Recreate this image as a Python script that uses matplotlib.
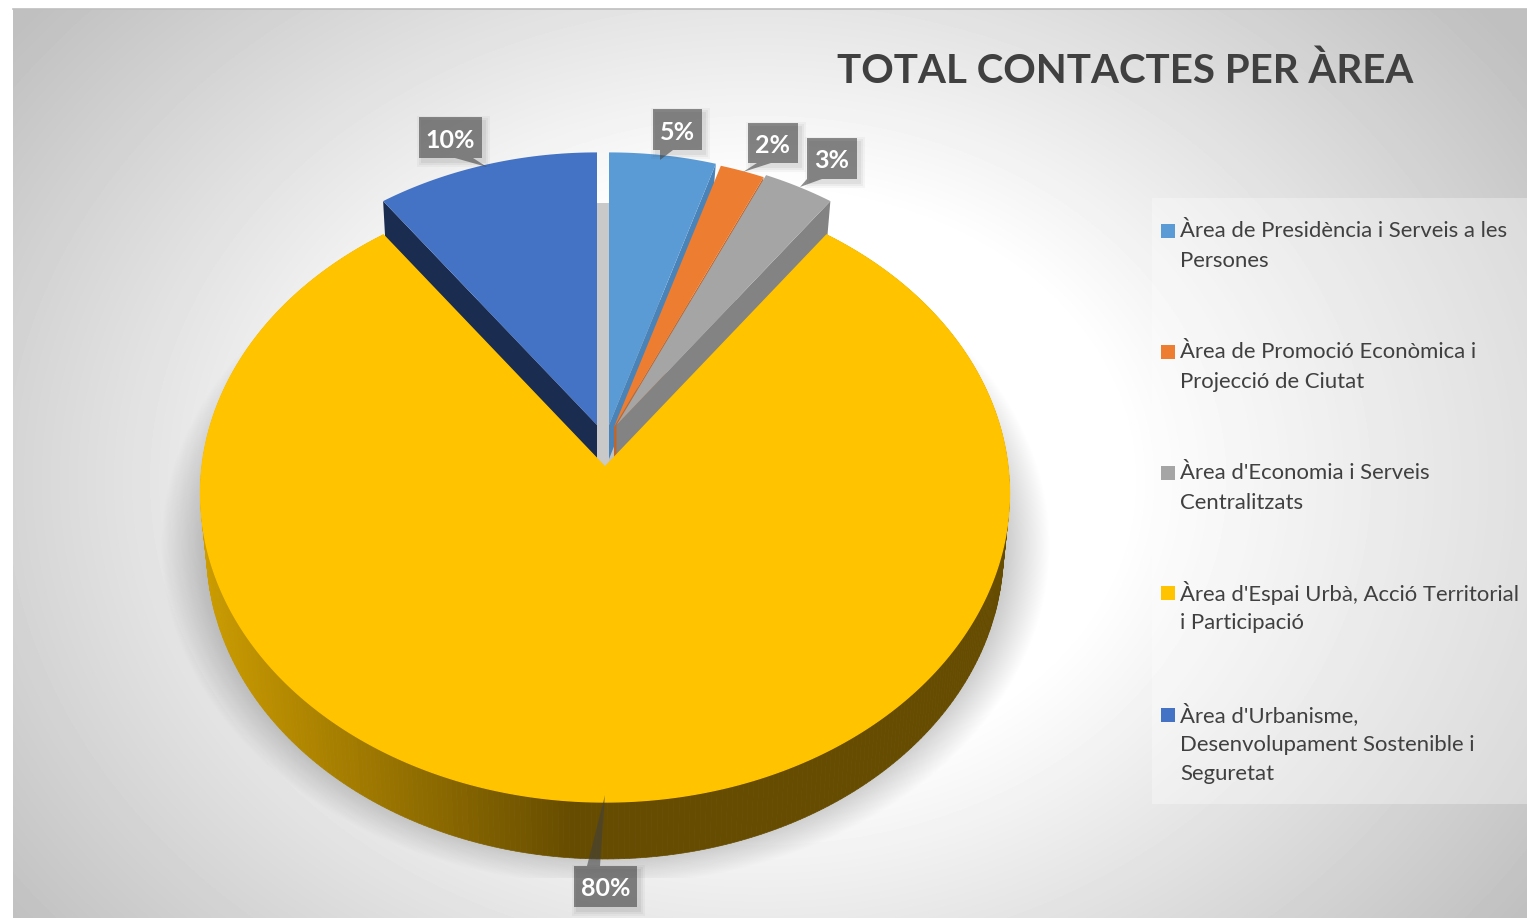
import numpy as np
import matplotlib
matplotlib.use('Agg')
import matplotlib.pyplot as plt
from matplotlib.patches import Polygon, Rectangle

plt.rcParams['font.family'] = ['Lato', 'DejaVu Sans']

title = 'TOTAL CONTACTES PER ÀREA'
categories = ["Àrea de Presidència i Serveis a les\nPersones",
              "Àrea de Promoció Econòmica i\nProjecció de Ciutat",
              "Àrea d'Economia i Serveis\nCentralitzats",
              "Àrea d'Espai Urbà, Acció Territorial\ni Participació",
              "Àrea d'Urbanisme,\nDesenvolupament Sostenible i\nSeguretat"]
values = [4.8, 2.0, 3.2, 80, 10]
colors = ['#5B9BD5', '#ED7D31', '#A5A5A5', '#FFC300', '#4472C4']
wall_colors = ['#4A83B8', '#C0662B', '#838383', '#664C00', '#1A2C50']

W, H = 1527, 918
fig = plt.figure(figsize=(W / 100, H / 100), dpi=100, facecolor='white')
ax = fig.add_axes([0, 0, 1, 1])
ax.set_xlim(0, W)
ax.set_ylim(H, 0)
ax.axis('off')

# background, radial grey
xx, yy = np.meshgrid(np.arange(13, W), np.arange(9, H))
dist = np.hypot((xx - 760) * 0.9, (yy - 480) * 1.15)
grey = 1 - 0.25 * np.clip((dist - 330) / 520, 0, 1.0)
ax.imshow(grey, extent=(13, W, H, 9), cmap='gray', vmin=0, vmax=1, zorder=0,
          aspect='auto')
ax.plot([13, W], [9, 9], color='#BFBFBF', lw=1.2, zorder=1)

# soft shadow under the pie, cut at the bottom of the plot area
xs, ys = np.meshgrid(np.arange(100, 1100), np.arange(300, 878))
d = np.hypot((xs - 605) / 445, (ys - 545) / 340)
shadow = np.zeros(xs.shape + (4,))
shadow[..., 3] = 0.24 * np.clip((1 - d) / 0.12, 0, 1)
ax.imshow(shadow, extent=(100, 1100, 878, 300), zorder=2, aspect='auto')
ax.set_xlim(0, W)
ax.set_ylim(H, 0)

# legend panel
ax.add_patch(Rectangle((1152, 198), 375, 606, fc='white', alpha=0.32, ec='none', zorder=2))


def proj(theta, apex, sx=1.0, sy=1.0):
    # perspective disc, theta clockwise from the top
    k = 0.085
    u, v = np.sin(theta), np.cos(theta)
    s = 1 + k * v
    return np.column_stack((apex[0] + 403 * sx * u / s, apex[1] - 306.5 * sy * v / s))


edges = np.radians(np.cumsum([0] + values) * 3.6)
apexes = [(609, 425), (614, 427), (616.5, 425), (605, 467), (597, 425)]
scale = 0.965
depth = 34

# inner face seen through the gap at the top
ax.add_patch(Rectangle((597, 203), 12, 264, fc='#C9C9C9', ec='none', zorder=3))

# blue slice
i = 4
th = np.linspace(edges[i], edges[i + 1], 40)
rim = proj(th, apexes[i], scale, scale)
a = np.array(apexes[i], float)
wall = np.array([a, rim[0], rim[0] + [2, depth + 2], a + [0, depth]])
ax.add_patch(Polygon(wall, fc=wall_colors[i], ec='none', zorder=4))
ax.add_patch(Polygon(np.vstack((a, rim)), fc=colors[i], ec='none', zorder=5))

# small slices on the right, back to front
for i in range(3):
    th = np.linspace(edges[i], edges[i + 1], 30)
    rim = proj(th, apexes[i], scale, scale)
    a = np.array(apexes[i], float)
    wall = np.array([a, rim[-1], rim[-1] + [-3, depth + 1], a + [0, depth]])
    ax.add_patch(Polygon(wall, fc=wall_colors[i], ec='none', zorder=4 + i * 0.1))
    ax.add_patch(Polygon(np.vstack((a, rim)), fc=colors[i], ec='none', zorder=4.05 + i * 0.1))

# big slice: side wall in strips, then the top
i = 3
th = np.linspace(edges[i], edges[i + 1], 400)
top = proj(th, apexes[i])
bot = proj(th, (apexes[i][0], apexes[i][1] + 57), 0.985, 1.0)
left_col = np.array([0xCC, 0x9C, 0x00]) / 255
dark_col = np.array([0x66, 0x4C, 0x00]) / 255
for j in range(len(th) - 1):
    x = top[j, 0]
    t = np.clip((x - 201) / (575 - 201), 0, 1)
    c = left_col * (1 - t) + dark_col * t
    ax.add_patch(Polygon([top[j], top[j + 1], bot[j + 1], bot[j]], fc=c, ec=c, lw=0.5, zorder=6))
ax.add_patch(Polygon(np.vstack((apexes[i], top)), fc=colors[i], ec=colors[i], lw=1, zorder=7))


# data labels with callouts
boxes = [(653, 109, 49, 41), (748, 123, 50, 40), (807, 138, 50, 41), (574, 866, 63, 41), (419, 117, 63, 41)]
tails = [[(660, 150), (673, 150), (660, 160)],
         [(757, 163), (771, 163), (743, 172)],
         [(807, 179), (822, 179), (800, 187)],
         [(587, 866), (600, 866), (605, 795)],
         [(455, 158), (473, 158), (487, 167)]]
box_col = (0.25, 0.25, 0.25, 0.58)
for v, (bx, by, bw, bh), tail in zip(values, boxes, tails):
    for grow, al in ((5, 0.03), (3, 0.04), (1, 0.05)):
        ax.add_patch(Rectangle((bx + 3 - grow, by + 4 - grow), bw + 2 * grow, bh + 2 * grow,
                               fc='black', alpha=al, ec='none', zorder=8))
    ax.add_patch(Rectangle((bx, by), bw, bh, fc=box_col, ec='none', zorder=9))
    ax.add_patch(Polygon(tail, fc=box_col, ec='none', zorder=9))
    ax.text(bx + bw / 2, by + bh / 2 + 2.5, f'{v:.0f}%', color='white', fontsize=18, fontweight='bold',
            ha='center', va='center', zorder=10)

ax.text(1125, 71, title, color='#404040', fontsize=29, fontweight='bold',
        ha='center', va='center', zorder=10)

# legend
first_lines = [231, 352, 473, 593, 715]
for cat, col, y0 in zip(categories, colors, first_lines):
    ax.add_patch(Rectangle((1161, y0 - 7), 14, 14, fc=col, ec='none', zorder=10))
    for n, line in enumerate(cat.split('\n')):
        ax.text(1180, y0 + n * 29.6, line, color='#404040', fontsize=15.9,
                ha='left', va='center', zorder=10)

fig.savefig('out.png', dpi=100)
